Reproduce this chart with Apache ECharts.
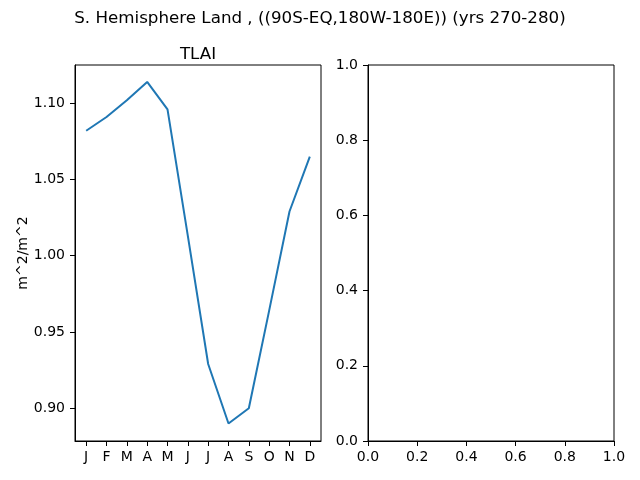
<!DOCTYPE html>
<html>
<head>
<meta charset="utf-8">
<script src="https://cdn.jsdelivr.net/npm/echarts@6/dist/echarts.min.js"></script>
<style>
  html, body { margin: 0; padding: 0; background: #fff; }
  #chart { width: 640px; height: 480px; }
</style>
</head>
<body>
<div id="chart"></div>
<script>
// months shown on the left panel
const months = ['J', 'F', 'M', 'A', 'M', 'J', 'J', 'A', 'S', 'O', 'N', 'D'];
// TLAI monthly climatology (m^2/m^2)
const tlai = [1.082, 1.091, 1.102, 1.114, 1.096, 1.013, 0.929, 0.890, 0.900, 0.964, 1.029, 1.065];
const leftTicks = [0.90, 0.95, 1.00, 1.05, 1.10];

const FONT = 'DejaVu Sans';
const chart = echarts.init(document.getElementById('chart'), null, { renderer: 'canvas' });

const axisCommon = {
  axisLine: { show: true, onZero: false, lineStyle: { color: '#000', width: 1 } },
  axisTick: { show: true, inside: false, length: 5, lineStyle: { color: '#000', width: 1 } },
  splitLine: { show: false },
};

const option = {
  backgroundColor: '#fff',
  animation: false,
  title: [
    {
      text: 'S. Hemisphere Land , ((90S-EQ,180W-180E)) (yrs 270-280)',
      left: 315, top: 5, textAlign: 'center',
      textStyle: { fontFamily: FONT, fontSize: 16.7, fontWeight: 'normal', color: '#000' }
    },
    {
      text: 'TLAI',
      left: 193, top: 41, textAlign: 'center',
      textStyle: { fontFamily: FONT, fontSize: 16.7, fontWeight: 'normal', color: '#000' }
    }
  ],
  grid: [
    { left: 75, top: 65, width: 246, height: 376, show: true, borderColor: '#000', borderWidth: 1, backgroundColor: 'transparent' },
    { left: 368, top: 65, width: 246, height: 376, show: true, borderColor: '#000', borderWidth: 1, backgroundColor: 'transparent' }
  ],
  xAxis: [
    Object.assign({}, axisCommon, {
      type: 'value', gridIndex: 0, min: -0.55, max: 11.55,
      axisTick: Object.assign({}, axisCommon.axisTick, { customValues: months.map((m, i) => i) }),
      axisLabel: {
        customValues: months.map((m, i) => i),
        formatter: v => months[Math.round(v)],
        margin: 9, color: '#000', fontFamily: FONT, fontSize: 14
      }
    }),
    Object.assign({}, axisCommon, {
      type: 'value', gridIndex: 1, min: 0, max: 1, interval: 0.2,
      axisLabel: { formatter: v => v.toFixed(1), margin: 9, color: '#000', fontFamily: FONT, fontSize: 14 }
    })
  ],
  yAxis: [
    Object.assign({}, axisCommon, {
      type: 'value', gridIndex: 0, min: 0.8785, max: 1.1251,
      name: 'm^2/m^2', nameLocation: 'middle', nameRotate: 90, nameGap: 45,
      nameTextStyle: { fontFamily: FONT, fontSize: 14, color: '#000' },
      axisTick: Object.assign({}, axisCommon.axisTick, { customValues: leftTicks }),
      axisLabel: {
        customValues: leftTicks,
        formatter: v => v.toFixed(2),
        margin: 10, color: '#000', fontFamily: FONT, fontSize: 14
      }
    }),
    Object.assign({}, axisCommon, {
      type: 'value', gridIndex: 1, min: 0, max: 1, interval: 0.2,
      axisLabel: { formatter: v => v.toFixed(1), margin: 10, color: '#000', fontFamily: FONT, fontSize: 14 }
    })
  ],
  series: [
    {
      type: 'line',
      xAxisIndex: 0, yAxisIndex: 0,
      data: tlai.map((v, i) => [i, v]),
      showSymbol: false,
      lineStyle: { color: '#1f77b4', width: 2 },
      itemStyle: { color: '#1f77b4' }
    }
  ]
};

chart.setOption(option);
</script>
</body>
</html>
